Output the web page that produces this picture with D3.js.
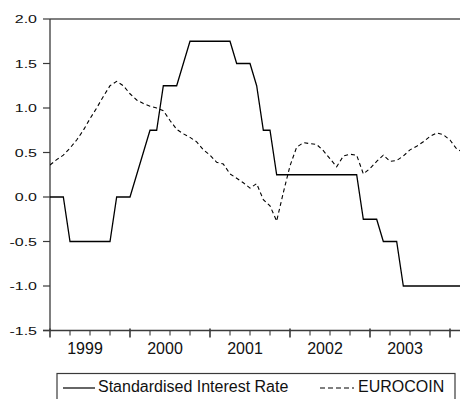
<!DOCTYPE html>
<html>
<head>
<meta charset="utf-8">
<script src="https://cdn.jsdelivr.net/npm/d3@7"></script>
<style>
  body { margin: 0; background: #fff; }
  svg { display: block; font-family: "Liberation Sans", Arial, sans-serif; }
</style>
</head>
<body>
<div id="chart"></div>
<script>
// Standardised interest rate vs EUROCOIN, monthly 1999:01 - 2004:03

var months = [
  '1999-01','1999-02','1999-03','1999-04','1999-05','1999-06','1999-07','1999-08','1999-09','1999-10','1999-11','1999-12',
  '2000-01','2000-02','2000-03','2000-04','2000-05','2000-06','2000-07','2000-08','2000-09','2000-10','2000-11','2000-12',
  '2001-01','2001-02','2001-03','2001-04','2001-05','2001-06','2001-07','2001-08','2001-09','2001-10','2001-11','2001-12',
  '2002-01','2002-02','2002-03','2002-04','2002-05','2002-06','2002-07','2002-08','2002-09','2002-10','2002-11','2002-12',
  '2003-01','2003-02','2003-03','2003-04','2003-05','2003-06','2003-07','2003-08','2003-09','2003-10','2003-11','2003-12',
  '2004-01','2004-02','2004-03'
];

var interestRate = [
  0, 0, 0, -0.5, -0.5, -0.5, -0.5, -0.5, -0.5, -0.5, 0, 0,
  0, 0.25, 0.5, 0.75, 0.75, 1.25, 1.25, 1.25, 1.5, 1.75, 1.75, 1.75,
  1.75, 1.75, 1.75, 1.75, 1.5, 1.5, 1.5, 1.25, 0.75, 0.75, 0.25, 0.25,
  0.25, 0.25, 0.25, 0.25, 0.25, 0.25, 0.25, 0.25, 0.25, 0.25, 0.25, -0.25,
  -0.25, -0.25, -0.5, -0.5, -0.5, -1.0, -1.0, -1.0, -1.0, -1.0, -1.0, -1.0,
  -1.0, -1.0, -1.0
];

var eurocoin = [
  0.36, 0.42, 0.47, 0.55, 0.64, 0.75, 0.88, 1.0, 1.13, 1.25, 1.30, 1.25,
  1.16, 1.09, 1.05, 1.02, 1.00, 0.97, 0.86, 0.76, 0.71, 0.67, 0.62, 0.53,
  0.47, 0.39, 0.37, 0.26, 0.21, 0.16, 0.10, 0.15, -0.03, -0.10, -0.27, 0.05,
  0.35, 0.56, 0.61, 0.60, 0.59, 0.52, 0.43, 0.34, 0.46, 0.48, 0.47, 0.26,
  0.32, 0.40, 0.47, 0.40, 0.41, 0.46, 0.53, 0.57, 0.62, 0.68, 0.72, 0.70,
  0.64, 0.54, 0.50
];

var years = ['1999', '2000', '2001', '2002', '2003'];
var yTicks = [-1.5, -1.0, -0.5, 0.0, 0.5, 1.0, 1.5, 2.0];

var svg = d3.select('#chart').append('svg')
  .attr('width', 460)
  .attr('height', 399);

var margin = { left: 50, right: 460, top: 19, bottom: 330.5 };

var x = d3.scaleLinear().domain([0, 61.5]).range([margin.left, margin.left + 61.5 * 80 / 12]);
var y = d3.scaleLinear().domain([-1.5, 2.0]).range([margin.bottom, margin.top]);

svg.append('clipPath').attr('id', 'plotclip')
  .append('rect')
  .attr('x', margin.left).attr('y', margin.top - 2)
  .attr('width', margin.right - margin.left).attr('height', margin.bottom - margin.top + 4);

var frameColor = '#3a3a3a';

// frame: top, left, bottom
svg.append('line')
  .attr('x1', margin.left).attr('x2', margin.right).attr('y1', margin.top).attr('y2', margin.top)
  .attr('stroke', '#555').attr('stroke-width', 1.4);
svg.append('line')
  .attr('x1', margin.left).attr('x2', margin.left).attr('y1', margin.top).attr('y2', margin.bottom)
  .attr('stroke', frameColor).attr('stroke-width', 1.3);
svg.append('line')
  .attr('x1', margin.left - 7).attr('x2', margin.right).attr('y1', margin.bottom).attr('y2', margin.bottom)
  .attr('stroke', frameColor).attr('stroke-width', 1.3);

// y axis ticks + labels
var yAxis = svg.append('g').attr('class', 'axis axis--y');
yAxis.selectAll('line')
  .data(yTicks)
  .enter().append('line')
  .attr('x1', margin.left - 7).attr('x2', margin.left)
  .attr('y1', function(d) { return y(d); })
  .attr('y2', function(d) { return y(d); })
  .attr('stroke', frameColor).attr('stroke-width', 1.2);
yAxis.selectAll('text')
  .data(yTicks)
  .enter().append('text')
  .attr('transform', function(d) { return 'translate(' + (margin.left - 13) + ',' + y(d) + ') scale(1,0.74)'; })
  .attr('dy', '0.36em')
  .attr('text-anchor', 'end')
  .style('font-size', '16px')
  .attr('fill', '#111')
  .text(function(d) { return d.toFixed(1); });

// x axis: quarterly minor ticks, yearly major ticks
var xAxis = svg.append('g').attr('class', 'axis axis--x');
var quarterIdx = d3.range(0, 62, 3);
xAxis.selectAll('line')
  .data(quarterIdx)
  .enter().append('line')
  .attr('x1', function(d) { return x(d); })
  .attr('x2', function(d) { return x(d); })
  .attr('y1', function(d) { return d % 12 === 0 ? margin.bottom - 2 : margin.bottom; })
  .attr('y2', function(d) { return d % 12 === 0 ? margin.bottom + 7 : margin.bottom + 5; })
  .attr('stroke', frameColor)
  .attr('stroke-width', function(d) { return d % 12 === 0 ? 1.6 : 1.1; });
xAxis.selectAll('text')
  .data(years)
  .enter().append('text')
  .attr('x', function(d, i) { return x(i * 12 + 6) - 5; })
  .attr('y', margin.bottom + 23)
  .attr('text-anchor', 'middle')
  .style('font-size', '16px')
  .attr('fill', '#111')
  .text(function(d) { return d; });

// series
var plot = svg.append('g').attr('clip-path', 'url(#plotclip)');

var line = function(values) {
  return d3.line()
    .x(function(d, i) { return x(i); })
    .y(function(d) { return y(d); })(values);
};

plot.append('path')
  .attr('d', line(eurocoin))
  .attr('fill', 'none')
  .attr('stroke', '#000')
  .attr('stroke-width', 1.1)
  .attr('stroke-dasharray', '4,3');

plot.append('path')
  .attr('d', line(interestRate))
  .attr('fill', 'none')
  .attr('stroke', '#000')
  .attr('stroke-width', 1.3);

// legend
var legend = svg.append('g').attr('class', 'legend');
legend.append('rect')
  .attr('x', 57).attr('y', 373.5)
  .attr('width', 398).attr('height', 40)
  .attr('fill', 'none')
  .attr('stroke', frameColor).attr('stroke-width', 1.2);
legend.append('line')
  .attr('x1', 63).attr('x2', 95).attr('y1', 388).attr('y2', 388)
  .attr('stroke', '#000').attr('stroke-width', 1.2);
legend.append('text')
  .attr('x', 98).attr('y', 391.5)
  .style('font-size', '16px')
  .attr('fill', '#111')
  .text('Standardised Interest Rate');
legend.append('line')
  .attr('x1', 320).attr('x2', 354).attr('y1', 388).attr('y2', 388)
  .attr('stroke', '#000').attr('stroke-width', 1.2)
  .attr('stroke-dasharray', '5,3');
legend.append('text')
  .attr('x', 358).attr('y', 391.5)
  .style('font-size', '16px')
  .attr('fill', '#111')
  .text('EUROCOIN');
</script>
</body>
</html>
